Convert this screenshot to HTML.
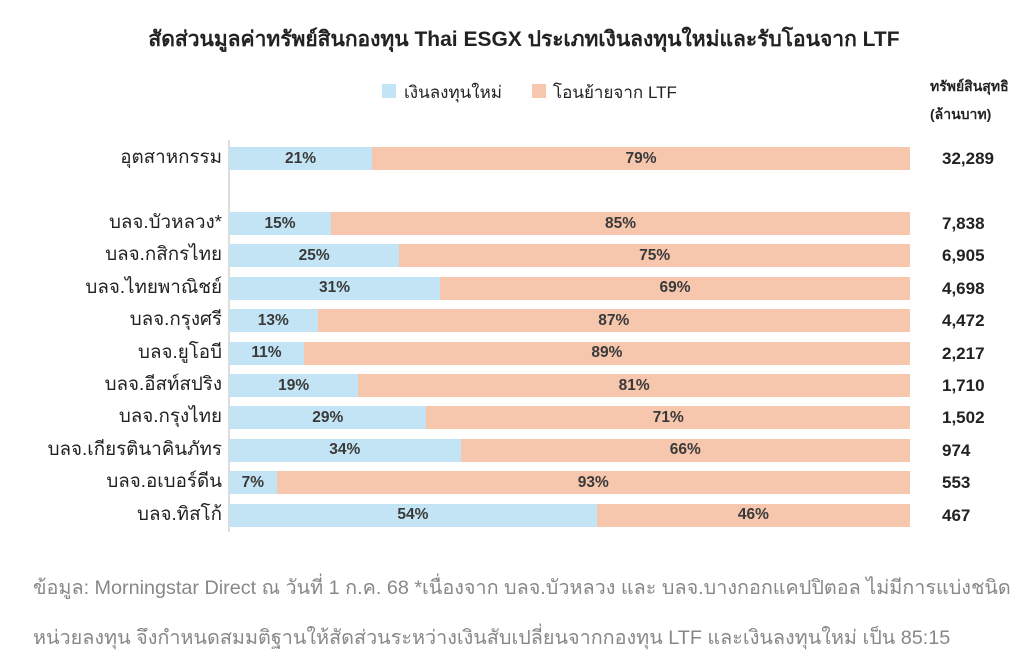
<!DOCTYPE html><html><head><meta charset="utf-8"><style>
body{margin:0;width:1024px;height:651px;background:#fff;position:relative;overflow:hidden;font-family:"Liberation Sans","Noto Sans CJK SC",sans-serif;color:#222}
.a{position:absolute;white-space:nowrap}
.lab{right:802px;font-size:18.8px;text-align:right;line-height:24px}
.bar{position:absolute;left:229px;width:681px;height:23px;display:flex}
.bar div{height:100%;display:flex;align-items:center;justify-content:center;font-weight:bold;font-size:15.5px;color:#3a3a3a}
.b{background:#c2e4f4}.o{background:#f6c6ad}
.v{left:942px;font-weight:bold;font-size:17px;line-height:23px}
</style></head><body>
<div class="a" style="left:0;width:1048px;text-align:center;top:23px;font-size:21px;font-weight:bold">สัดส่วนมูลค่าทรัพย์สินกองทุน Thai ESGX ประเภทเงินลงทุนใหม่และรับโอนจาก LTF</div>
<div class="a" style="left:382px;top:84px;width:14px;height:14px;background:#c2e4f4"></div>
<div class="a" style="left:404px;top:79px;font-size:17px">เงินลงทุนใหม่</div>
<div class="a" style="left:532px;top:84px;width:14px;height:14px;background:#f6c6ad"></div>
<div class="a" style="left:553px;top:79px;font-size:17px">โอนย้ายจาก LTF</div>
<div class="a" style="left:930px;top:76px;font-size:14px;font-weight:bold">ทรัพย์สินสุทธิ</div>
<div class="a" style="left:930px;top:104px;font-size:14px;font-weight:bold">(ล้านบาท)</div>
<div class="a" style="left:228px;top:140px;width:2px;height:392px;background:#ddd"></div>
<div id="c"></div>
<div class="a" style="left:33px;top:571px;font-size:19.8px;color:#888">ข้อมูล: Morningstar Direct ณ วันที่ 1 ก.ค. 68 *เนื่องจาก บลจ.บัวหลวง และ บลจ.บางกอกแคปปิตอล ไม่มีการแบ่งชนิด</div>
<div class="a" style="left:33px;top:621px;font-size:19.8px;color:#888">หน่วยลงทุน จึงกำหนดสมมติฐานให้สัดส่วนระหว่างเงินสับเปลี่ยนจากกองทุน LTF และเงินลงทุนใหม่ เป็น 85:15</div>
<script>
var d=[["อุตสาหกรรม",21,"32,289",147],["บลจ.บัวหลวง*",15,"7,838"],["บลจ.กสิกรไทย",25,"6,905"],["บลจ.ไทยพาณิชย์",31,"4,698"],["บลจ.กรุงศรี",13,"4,472"],["บลจ.ยูโอบี",11,"2,217"],["บลจ.อีสท์สปริง",19,"1,710"],["บลจ.กรุงไทย",29,"1,502"],["บลจ.เกียรตินาคินภัทร",34,"974"],["บลจ.อเบอร์ดีน",7,"553"],["บลจ.ทิสโก้",54,"467"]];
var h="";d.forEach(function(r,i){var y=i==0?147:212+(i-1)*32.4;
h+='<div class="a lab" style="top:'+(y-2)+'px">'+r[0]+'</div>';
h+='<div class="bar" style="top:'+y+'px"><div class="b" style="width:'+r[1]+'%">'+r[1]+'%</div><div class="o" style="width:'+(100-r[1])+'%">'+(100-r[1])+'%</div></div>';
h+='<div class="a v" style="top:'+y+'px">'+r[2]+'</div>';});
document.getElementById("c").innerHTML=h;
</script>
</body></html>
